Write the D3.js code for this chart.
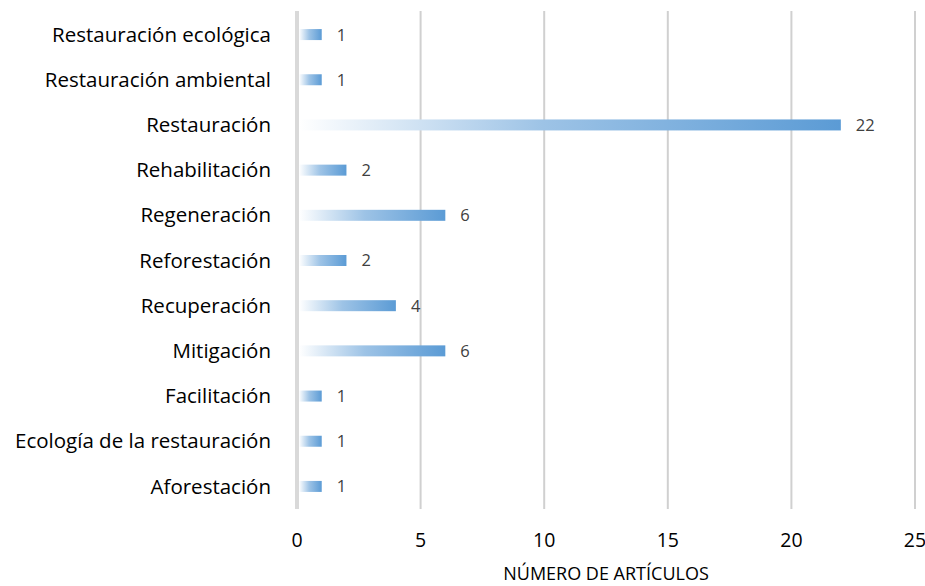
<!DOCTYPE html>
<html>
<head>
<meta charset="utf-8">
<script src="https://cdn.jsdelivr.net/npm/d3@7"></script>
<style>
  html, body { margin: 0; padding: 0; background: #fff; }
  svg { display: block; font-family: "Open Sans", Lato, sans-serif; }
</style>
</head>
<body>
<svg id="chart" width="925" height="586"></svg>
<script>
// Términos de búsqueda y número de artículos por término
const categories = [
  "Restauración ecológica",
  "Restauración ambiental",
  "Restauración",
  "Rehabilitación",
  "Regeneración",
  "Reforestación",
  "Recuperación",
  "Mitigación",
  "Facilitación",
  "Ecología de la restauración",
  "Aforestación"
];
const articles = [1, 1, 22, 2, 6, 2, 4, 6, 1, 1, 1];
const xTicks = [0, 5, 10, 15, 20, 25];
const xTitle = "NÚMERO DE ARTÍCULOS";

const svg = d3.select("#chart");
const plot = { left: 297, right: 915, top: 12, bottom: 509 };

const x = d3.scaleLinear().domain([0, 25]).range([plot.left, plot.right]);
const y = d3.scaleBand().domain(categories).range([plot.top, plot.bottom]).paddingInner(0.757).paddingOuter(0.378);

// Degradado horizontal de cada barra: de blanco a azul
const defs = svg.append("defs");
const grad = defs.append("linearGradient").attr("id", "barGrad")
  .attr("x1", "0%").attr("x2", "100%").attr("y1", "0%").attr("y2", "0%");
grad.append("stop").attr("offset", "0%").attr("stop-color", "#ffffff");
grad.append("stop").attr("offset", "45%").attr("stop-color", "#9dc3e6");
grad.append("stop").attr("offset", "100%").attr("stop-color", "#5b9bd5");

// Líneas de cuadrícula verticales
svg.append("g").selectAll("line")
  .data(xTicks.filter(d => d > 0))
  .join("line")
  .attr("x1", d => x(d)).attr("x2", d => x(d))
  .attr("y1", plot.top - 1).attr("y2", plot.bottom)
  .attr("stroke", "#d0d0d0").attr("stroke-width", 2);

// Eje vertical (valor 0)
svg.append("line")
  .attr("x1", x(0)).attr("x2", x(0))
  .attr("y1", plot.top - 1).attr("y2", plot.bottom)
  .attr("stroke", "#d9d9d9").attr("stroke-width", 4);

// Barras
const barH = 11;
svg.append("g").selectAll("rect")
  .data(categories.map((c, i) => ({ c, v: articles[i] })))
  .join("rect")
  .attr("x", x(0) + 2)
  .attr("y", d => y(d.c) + y.bandwidth() / 2 - barH / 2)
  .attr("width", d => x(d.v) - x(0) - 2)
  .attr("height", barH)
  .attr("fill", "url(#barGrad)");

// Etiquetas de valor
svg.append("g").selectAll("text")
  .data(categories.map((c, i) => ({ c, v: articles[i] })))
  .join("text")
  .attr("x", d => x(d.v) + 15)
  .attr("y", d => y(d.c) + y.bandwidth() / 2)
  .attr("dy", "0.36em")
  .attr("font-size", 16.5)
  .attr("fill", "#404040")
  .text(d => d.v);

// Etiquetas de categoría
svg.append("g").selectAll("text")
  .data(categories)
  .join("text")
  .attr("x", 271)
  .attr("y", d => y(d) + y.bandwidth() / 2)
  .attr("dy", "0.35em")
  .attr("text-anchor", "end")
  .attr("font-size", 20.5)
  .attr("fill", "#000")
  .text(d => d);

// Etiquetas de marcas del eje X
svg.append("g").selectAll("text")
  .data(xTicks)
  .join("text")
  .attr("x", d => x(d))
  .attr("y", 540)
  .attr("dy", "0.35em")
  .attr("text-anchor", "middle")
  .attr("font-size", 19.5)
  .attr("fill", "#000")
  .text(d => d);

// Título del eje X
svg.append("text")
  .attr("x", 606)
  .attr("y", 574)
  .attr("dy", "0.35em")
  .attr("text-anchor", "middle")
  .attr("font-size", 18)
  .attr("fill", "#000")
  .text(xTitle);
</script>
</body>
</html>
